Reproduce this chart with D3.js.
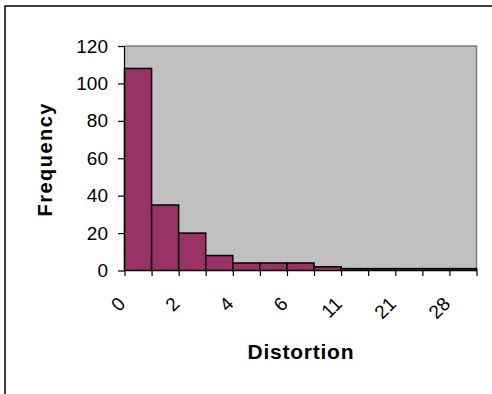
<!DOCTYPE html>
<html>
<head>
<meta charset="utf-8">
<script src="https://cdn.jsdelivr.net/npm/d3@7"></script>
<style>
  html, body { margin: 0; padding: 0; background: #fff; }
  svg { display: block; font-family: "Liberation Sans", Arial, sans-serif; }
</style>
</head>
<body>
<svg id="chart" width="492" height="394"></svg>
<script>
// Distortion bins (category labels) and their counts
const categories = ["0", "1", "2", "3", "4", "5", "6", "8", "11", "16", "21", "25", "28"];
const frequencies = [108, 35, 20, 8, 4, 4, 4, 2, 1, 1, 1, 1, 1];
const shownLabels = ["0", "2", "4", "6", "11", "21", "28"];
const yTicks = [0, 20, 40, 60, 80, 100, 120];

const svg = d3.select("#chart");

const plot = { left: 124.5, right: 476.5, top: 46, bottom: 270.5 };

const x = d3.scaleBand().domain(categories).range([plot.left, plot.right]).padding(0);
const xEdge = d3.scaleLinear().domain([0, categories.length]).range([plot.left, plot.right]);
const y = d3.scaleLinear().domain([0, 120]).range([plot.bottom, plot.top]);

// outer chart frame
svg.append("rect")
  .attr("x", 5).attr("y", 6)
  .attr("width", 520).attr("height", 420)
  .attr("fill", "#fff").attr("stroke", "#000").attr("stroke-width", 1.5);

// plot area
svg.append("rect")
  .attr("x", plot.left).attr("y", plot.top)
  .attr("width", plot.right - plot.left).attr("height", plot.bottom - plot.top)
  .attr("fill", "#C0C0C0");
svg.append("path")
  .attr("d", `M${plot.left},${plot.top}H${plot.right}V${plot.bottom}`)
  .attr("fill", "none").attr("stroke", "#808080").attr("stroke-width", 1.5);

// bars
svg.append("g").selectAll("rect")
  .data(categories.map((c, i) => ({ c, v: frequencies[i] })))
  .join("rect")
  .attr("x", d => x(d.c))
  .attr("y", d => y(d.v))
  .attr("width", x.bandwidth())
  .attr("height", d => y(0) - y(d.v))
  .attr("fill", "#993366")
  .attr("stroke", "#000")
  .attr("stroke-width", 1.5);

// y axis
const yAxis = svg.append("g")
  .attr("transform", `translate(${plot.left},0)`)
  .call(d3.axisLeft(y).tickValues(yTicks).tickSize(6.5).tickPadding(10).tickFormat(d3.format("d")));
yAxis.selectAll("path, line").attr("stroke", "#000").attr("stroke-width", 1.2);
yAxis.select(".domain").attr("d", `M0,${plot.top}V${plot.bottom}`);
yAxis.selectAll("text")
  .attr("font-family", "'Liberation Sans', Arial, sans-serif")
  .attr("font-size", 19).attr("fill", "#000");

// x axis: ticks between categories
const xAxis = svg.append("g")
  .attr("transform", `translate(0,${plot.bottom})`)
  .call(d3.axisBottom(xEdge).tickValues(d3.range(categories.length + 1)).tickSize(5.5).tickFormat(""));
xAxis.selectAll("path, line").attr("stroke", "#000").attr("stroke-width", 1.2);
xAxis.select(".domain").attr("d", `M${plot.left},0H${plot.right}`);

// rotated category labels
svg.append("g").selectAll("text")
  .data(shownLabels)
  .join("text")
  .attr("transform", d => `translate(${x(d) + x.bandwidth() / 2 - 11.5},305) rotate(-45)`)
  .attr("text-anchor", "end")
  .attr("font-size", 19)
  .attr("fill", "#000")
  .text(d => d);

// axis titles
svg.append("text")
  .attr("x", (plot.left + plot.right) / 2).attr("y", 358.5)
  .attr("text-anchor", "middle")
  .attr("font-size", 21).attr("font-weight", "bold")
  .attr("textLength", 106).attr("lengthAdjust", "spacing")
  .text("Distortion");

svg.append("text")
  .attr("transform", "translate(51.5,160) rotate(-90)")
  .attr("text-anchor", "middle")
  .attr("font-size", 20).attr("font-weight", "bold")
  .attr("textLength", 113).attr("lengthAdjust", "spacing")
  .text("Frequency");
</script>
</body>
</html>
